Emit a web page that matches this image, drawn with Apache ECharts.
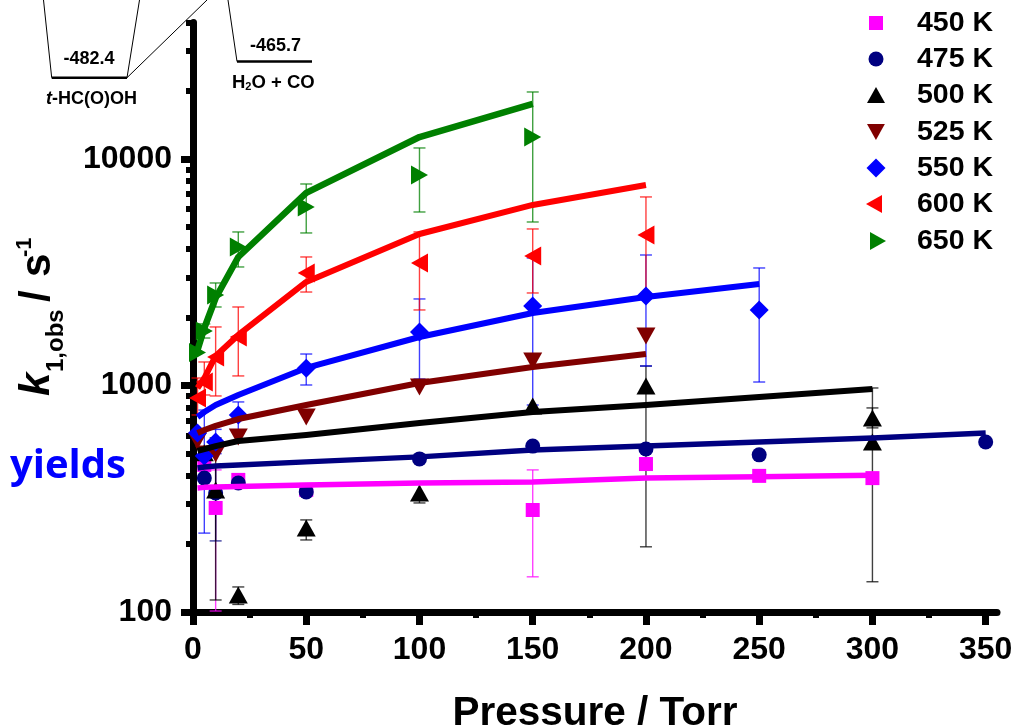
<!DOCTYPE html>
<html><head><meta charset="utf-8">
<style>html,body{margin:0;padding:0;background:#fff}#c{width:1014px;height:725px}</style>
<script src="https://cdn.jsdelivr.net/npm/echarts@6/dist/echarts.min.js"></script></head>
<body><div id="c"></div>
<script>
const xMajor=[0,50,100,150,200,250,300,350];
const xMinor=[25,75,125,175,225,275,325];
const yMajor=[100,1000,10000];
const yMinor=[200,300,400,500,600,700,800,900,2000,3000,4000,5000,6000,7000,8000,9000,20000,30000,40000];
const temps=['450 K','475 K','500 K','525 K','550 K','600 K','650 K'];
const colors=['#ff00ff','#000080','#000000','#800000','#0000ff','#ff0000','#008000'];
const symbols=['rect','circle','triangle','triangle','diamond','triangle','triangle'];
const rotations=[0,0,0,180,0,90,-90];
const sizes=[[14,14],[15,15],[19,17],[19,17],[19,19],[19,17],[19,17]];
const legendIcons=['rect','circle','triangle','path://M0,0L19,0L9.5,17Z','diamond','path://M17,0L17,19L0,9.5Z','path://M0,0L0,19L17,9.5Z'];
const legendSizes=[[14,14],[15,15],[18,16],[18,16],[19,19],[16,18],[16,18]];
const legendCx=[876,876,876,876,876,874,878];
const legendCy=[23,59,95,132,168,204,241];
const lineWidths=[5.5,5.5,6,6,6,6,6.5];

const pts450=[[5,446],[10,288],[20,383],[50,346],[150,282],[200,450],[250,399],[300,390]];
const pts475=[[5,390],[10,335],[20,371],[50,339],[100,474],[150,540],[200,524],[250,494],[350,563]];
const pts500=[[5,505],[10,346],[20,119],[50,235],[100,335],[150,812],[200,995],[300,719],[300,563]];
const pts525=[[2,569],[5,498],[10,498],[20,593],[50,726],[100,985],[150,1283],[200,1654]];
const pts550=[[2,617],[5,488],[10,563],[20,741],[50,1190],[100,1723],[150,2244],[200,2485],[250,2155]];
const pts600=[[2,881],[5,1036],[10,1336],[20,1637],[50,3138],[100,3474],[150,3730],[200,4617]];
const pts650=[[2,1400],[5,1740],[10,2510],[20,4087],[50,6138],[100,8500],[150,12500]];

const fit450=[[2,353],[5,355],[10,356],[20,358],[50,364],[100,371],[150,375],[200,390],[250,395],[300,402]];
const fit475=[[2,432],[5,437],[10,441],[20,446],[50,460],[100,484],[150,519],[200,540],[250,563],[300,587],[350,617]];
const fit500=[[2,514],[5,524],[10,540],[20,569],[50,604],[100,683],[150,764],[200,820],[250,890],[300,965]];
const fit525=[[2,617],[5,636],[10,663],[20,711],[50,820],[100,1026],[150,1207],[200,1377]];
const fit550=[[2,726],[5,764],[10,820],[20,908],[50,1195],[100,1637],[150,2089],[200,2458],[250,2806]];
const fit600=[[2,975],[5,1079],[10,1350],[20,1671],[50,2864],[100,4665],[150,6266],[200,7680]];
const fit650=[[2,1435],[5,1794],[10,2434],[20,3692],[50,7079],[100,12500],[150,17500]];

const err450=[[10,101,424],[150,143,424]];
const err475=[[10,206,440]];
const err500=[[5,480,530],[10,113,587],[20,108,129],[50,208,255],[100,303,371],[200,194,1219],[300,650,796],[300,136,975]];
const err525=[];
const err550=[[5,223,779],[10,500,640],[20,617,846],[50,1005,1377],[100,1068,2410],[150,820,3656],[200,1219,3768],[250,1036,3302]];
const err600=[[2,741,1079],[5,908,1270],[10,899,1813],[20,1102,2221],[50,2586,3693],[100,2155,4762],[150,2561,4909],[200,2530,6798]];
const err650=[[5,1620,1870],[10,2221,2835],[20,3336,4762],[50,4714,7755],[100,5834,11184],[150,5270,19760]];

const allPts=[pts450,pts475,pts500,pts525,pts550,pts600,pts650];
const allFit=[fit450,fit475,fit500,fit525,fit550,fit600,fit650];
const allErr=[err450,err475,err500,err525,err550,err600,err650];

function errSeries(i){return {type:'custom',name:temps[i]+' err',data:allErr[i],z:2,silent:true,
 renderItem(p,api){const x=api.value(0);const a=api.coord([x,api.value(1)]),b=api.coord([x,api.value(2)]);
  const st={stroke:colors[i],lineWidth:1.4,opacity:0.75};
  return {type:'group',children:[
   {type:'line',shape:{x1:a[0],y1:a[1],x2:b[0],y2:b[1]},style:st},
   {type:'line',shape:{x1:a[0]-6,y1:a[1],x2:a[0]+6,y2:a[1]},style:st},
   {type:'line',shape:{x1:b[0]-6,y1:b[1],x2:b[0]+6,y2:b[1]},style:st}]};},
 encode:{x:0,y:[1,2]}};}
const series=[];
temps.forEach((t,i)=>{series.push(errSeries(i));});
temps.forEach((t,i)=>{series.push({type:'scatter',name:t,data:allPts[i],symbol:symbols[i],symbolSize:sizes[i],symbolRotate:rotations[i],
 itemStyle:{color:colors[i],opacity:1},z:3,clip:false,silent:true,xAxisIndex:0,yAxisIndex:0});});
temps.forEach((t,i)=>{series.push({type:'line',name:t+' fit',data:allFit[i],showSymbol:false,symbol:'none',smooth:false,clip:false,
 lineStyle:{color:colors[i],width:lineWidths[i],cap:'butt',join:'round'},itemStyle:{color:colors[i]},z:4,silent:true});});

const B='"Liberation Sans",Arial,sans-serif';
const thin={stroke:'#000',lineWidth:1};
const thick={stroke:'#000',lineWidth:2.5};
function txt(x,y,rich,size){return {type:'text',x,y,style:{text:rich,font:'bold '+size+'px '+B,fill:'#000',textAlign:'center',textVerticalAlign:'middle'},silent:true};}
const titleTxt=(x,y,text,size,style)=>({type:'text',x,y,style:{text,font:(style||'bold')+' '+size+'px '+B,fill:'#000',textAlign:'left',textVerticalAlign:'middle'},silent:true});

const legends=temps.map((t,i)=>{const w=legendSizes[i][0],h=legendSizes[i][1];return {show:true,orient:'vertical',
  left:legendCx[i]-w/2,top:legendCy[i]-16,data:[{name:t,icon:legendIcons[i]}],
  itemWidth:w,itemHeight:h,selectedMode:false,padding:0,
  textStyle:{fontFamily:B,fontWeight:'bold',fontSize:28.5,lineHeight:32,color:'#000',padding:[0,0,0,917-(legendCx[i]-w/2)-w-5]}};});

const option={animation:false,backgroundColor:'#fff',
 grid:{left:193,top:22.6,width:804,height:589.4,containLabel:false,outerBoundsMode:'none'},
 xAxis:[
  {type:'value',min:0,max:355,position:'bottom',
   name:'Pressure / Torr',nameLocation:'middle',nameGap:81,nameTextStyle:{fontFamily:B,fontWeight:'bold',fontSize:40.5,color:'#000'},
   axisLine:{show:true,onZero:false,lineStyle:{color:'#000',width:7}},splitLine:{show:false},
   axisTick:{show:true,length:13,lineStyle:{color:'#000',width:7},customValues:xMajor},
   axisLabel:{customValues:xMajor,margin:22,fontFamily:B,fontWeight:'bold',fontSize:32,color:'#000'}},
  {type:'value',min:0,max:355,position:'bottom',axisLine:{show:false},splitLine:{show:false},
   axisTick:{show:true,length:6,lineStyle:{color:'#000',width:6},customValues:xMinor},axisLabel:{show:false}}],
 yAxis:[
  {type:'log',logBase:10,min:100,max:40000,position:'left',
   axisLine:{show:true,onZero:false,lineStyle:{color:'#000',width:7}},splitLine:{show:false},minorTick:{show:false},
   axisTick:{show:true,length:12,lineStyle:{color:'#000',width:7},customValues:yMajor},
   axisLabel:{customValues:yMajor,margin:21,formatter:v=>String(Math.round(v)),fontFamily:B,fontWeight:'bold',fontSize:32,color:'#000'}},
  {type:'log',logBase:10,min:100,max:40000,position:'left',axisLine:{show:false},splitLine:{show:false},
   axisTick:{show:true,length:7,lineStyle:{color:'#000',width:6},customValues:yMinor},axisLabel:{show:false}}],
 legend:legends,
 series,
 graphic:[
  {type:'polyline',shape:{points:[[43.5,0],[51.7,77.7]]},style:thin,silent:true},
  {type:'polyline',shape:{points:[[139.5,0],[127,77.7]]},style:thin,silent:true},
  {type:'polyline',shape:{points:[[127,77.7],[207,0]]},style:thin,silent:true},
  {type:'line',shape:{x1:51.7,y1:77.7,x2:127,y2:77.7},style:thick,silent:true},
  {type:'polyline',shape:{points:[[228,0],[237,61.5]]},style:thin,silent:true},
  {type:'line',shape:{x1:237,y1:61.5,x2:312,y2:61.5},style:thick,silent:true},
  txt(89,59,'-482.4',18),txt(275.6,46,'-465.7',18),
  {type:'text',x:46,y:99.5,style:{rich:{i:{font:'italic bold 18px '+B,fill:'#000'},n:{font:'bold 18px '+B,fill:'#000'}},text:'{i|t}{n|-HC(O)OH}',textVerticalAlign:'middle'},silent:true},
  {type:'text',x:232,y:83,style:{rich:{n:{font:'bold 18.5px '+B,fill:'#000'},s:{font:'bold 11px '+B,fill:'#000',verticalAlign:'bottom',padding:[8,0,0,0]}},text:'{n|H}{s|2}{n|O + CO}',textVerticalAlign:'middle'},silent:true},
  {type:'text',x:10,y:467,style:{text:'yields',font:'bold 40px "Open Sans",'+B,fill:'#0000ff',textAlign:'left',textVerticalAlign:'middle'},silent:true},
  {type:'group',x:37,y:396,rotation:Math.PI/2,children:[
    titleTxt(0,0,'k',42,'italic bold'),
    titleTxt(24,19,'1,obs',24),
    titleTxt(94,0,'/',42),
    titleTxt(119,1,'s',42),
    titleTxt(139,-12,'-1',22)]}
 ]};
const chart=echarts.init(document.getElementById('c'),null,{renderer:'canvas'});
chart.setOption(option);
</script></body></html>
